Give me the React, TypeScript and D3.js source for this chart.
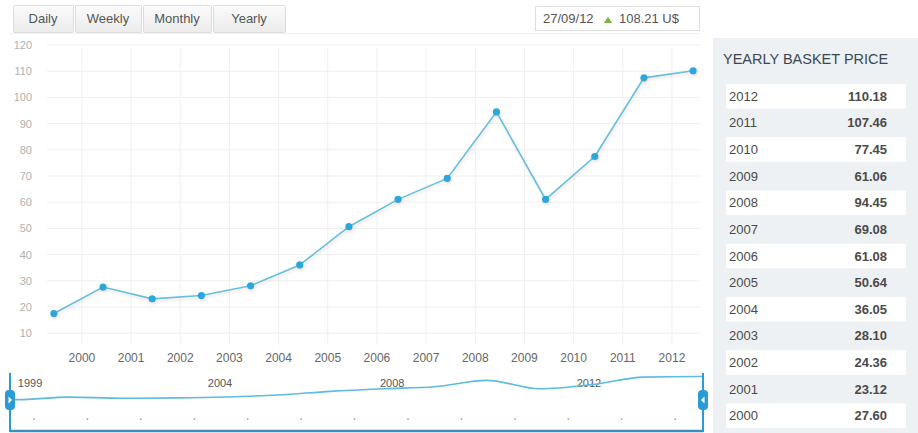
import React from "react";
import * as d3 from "d3";

// ---- data ----
const years = [1999, 2000, 2001, 2002, 2003, 2004, 2005, 2006, 2007, 2008, 2009, 2010, 2011, 2012];
const prices = [17.5, 27.6, 23.12, 24.36, 28.1, 36.05, 50.64, 61.08, 69.08, 94.45, 61.06, 77.45, 107.46, 110.18];
const xTickYears = [2000, 2001, 2002, 2003, 2004, 2005, 2006, 2007, 2008, 2009, 2010, 2011, 2012];
const yTicks = [10, 20, 30, 40, 50, 60, 70, 80, 90, 100, 110, 120];
const navLabels = ["1999", "2004", "2008", "2012"];
const navLabelAt = [1999.44, 2003.08, 2006.38, 2010.15];
const tableYears = ["2012", "2011", "2010", "2009", "2008", "2007", "2006", "2005", "2004", "2003", "2002", "2001", "2000"];
const tableValues = ["110.18", "107.46", "77.45", "61.06", "94.45", "69.08", "61.08", "50.64", "36.05", "28.10", "24.36", "23.12", "27.60"];
const buttons = ["Daily", "Weekly", "Monthly", "Yearly"];
const quoteDate = "27/09/12";
const quoteValue = "108.21 U$";

const W = 918;
const H = 433;
const FONT = "'Liberation Sans', Arial, sans-serif";
const POINT_OFFSET = 0.43; // points sit part-way through each year

export default function App() {
  const x = d3.scaleLinear().domain([1999.29, 2012.57]).range([47, 700]);
  const y = d3.scaleLinear().domain([0, 120]).range([359.4, 45]);
  const plotTop = 45;
  const plotBottom = 345;

  const pts = years.map((yr, i) => ({ x: x(yr + POINT_OFFSET), y: y(prices[i]) }));
  const line = d3.line<{ x: number; y: number }>().x((d) => d.x).y((d) => d.y);

  const nx = d3.scaleLinear().domain([1999.29, 2012.57]).range([10, 703]);
  const ny = d3.scaleLinear().domain([0, 120]).range([404, 374]);
  const navPts = years.map((yr, i) => ({ x: nx(yr + POINT_OFFSET), y: ny(prices[i]) }));
  const navLinePts = [{ x: nx.range()[0], y: navPts[0].y }, ...navPts, { x: nx.range()[1], y: navPts[navPts.length - 1].y }];
  const navLine = d3.line<{ x: number; y: number }>().x((d) => d.x).y((d) => d.y).curve(d3.curveMonotoneX);

  const btnWidths = [60, 66, 68, 72];
  let acc = 13;
  const btnPos = buttons.map((b, i) => {
    const p = { x: acc, w: btnWidths[i] };
    acc += btnWidths[i] + 2;
    return p;
  });

  const rowY = d3.scaleBand<string>().domain(tableYears).range([84, 428]).paddingInner(0.08);

  return (
    <svg width={W} height={H} style={{ position: "absolute", left: 0, top: 0, fontFamily: FONT }}>
      <defs>
        <linearGradient id="btnGrad" x1="0" y1="0" x2="0" y2="1">
          <stop offset="0" stopColor="#fbfbfb" />
          <stop offset="1" stopColor="#ebebeb" />
        </linearGradient>
        <filter id="shadow" x="-10%" y="-10%" width="120%" height="130%">
          <feDropShadow dx="1" dy="2" stdDeviation="1.5" floodColor="#c08080" floodOpacity="0.25" />
        </filter>
      </defs>
      <rect x={0} y={0} width={W} height={H} fill="#ffffff" />

      {/* buttons */}
      {buttons.map((b, i) => (
        <g key={b}>
          <rect x={btnPos[i].x + 0.5} y={5.5} width={btnPos[i].w} height={27} fill="url(#btnGrad)" stroke="#dcdcdc" rx={1} />
          <text x={btnPos[i].x + btnPos[i].w / 2} y={23} textAnchor="middle" fontSize={13} fill="#555">
            {b}
          </text>
        </g>
      ))}
      <line x1={10} x2={700} y1={33.5} y2={33.5} stroke="#f0f0f0" />

      {/* quote box */}
      <rect x={535.5} y={6.5} width={164} height={24} fill="#fff" stroke="#dedede" />
      <text x={543} y={23} fontSize={13} fill="#555">{quoteDate}</text>
      <path d="M604,23 L608,16.5 L612,23 Z" fill="#7cb342" />
      <text x={619} y={23} fontSize={13} fill="#555">{quoteValue}</text>

      {/* grid */}
      {yTicks.map((t) => (
        <line key={"h" + t} x1={47} x2={700} y1={y(t)} y2={y(t)} stroke="#efefef" />
      ))}
      {xTickYears.map((t) => (
        <line key={"v" + t} x1={x(t)} x2={x(t)} y1={plotTop + 3} y2={plotBottom} stroke="#efefef" />
      ))}

      {/* y labels */}
      {yTicks.map((t) => (
        <text key={"yl" + t} x={32} y={y(t) + 4} textAnchor="end" fontSize={11} fill="#b0b0b0">
          {t}
        </text>
      ))}
      {/* x labels */}
      {xTickYears.map((t) => (
        <text key={"xl" + t} x={x(t)} y={362} textAnchor="middle" fontSize={12} fill="#666">
          {t}
        </text>
      ))}

      {/* series */}
      <g filter="url(#shadow)">
        <path d={line(pts) || ""} fill="none" stroke="#62bfe0" strokeWidth={1.6} />
        {pts.map((p, i) => (
          <circle key={"p" + i} cx={p.x} cy={p.y} r={3.6} fill="#2ba8dc" />
        ))}
      </g>

      {/* navigator */}
      {navLabels.map((l, i) => (
        <text key={"nl" + l} x={nx(navLabelAt[i])} y={387} fontSize={11} fill="#555">
          {l}
        </text>
      ))}
      {d3.range(13).map((i) => (
        <circle key={"nd" + i} cx={nx(1999.75 + i) + (i * 15) / 12} cy={419} r={0.9} fill="#aaa" />
      ))}
      <path d={navLine(navLinePts) || ""} fill="none" stroke="#5bbbe0" strokeWidth={1.6} />
      <line x1={10} x2={703} y1={431} y2={431} stroke="#3a90b8" strokeWidth={2.5} />
      <line x1={10} x2={10} y1={373} y2={432} stroke="#2b9bd6" strokeWidth={2} />
      <line x1={703} x2={703} y1={373} y2={432} stroke="#2b9bd6" strokeWidth={2} />
      <rect x={5} y={390} width={10} height={20} rx={4} fill="#2b9bd6" />
      <path d="M8.5,396.5 L12,400 L8.5,403.5 Z" fill="#fff" />
      <rect x={698} y={390} width={10} height={20} rx={4} fill="#2b9bd6" />
      <path d="M704.5,396.5 L701,400 L704.5,403.5 Z" fill="#fff" />

      {/* table panel */}
      <rect x={713} y={38} width={205} height={395} fill="#eef1f3" />
      <text x={723} y={64} fontSize={14.5} fill="#3b4852">YEARLY BASKET PRICE</text>
      {tableYears.map((yr, i) => (
        <g key={"r" + yr}>
          {i % 2 === 0 && (
            <rect x={726} y={rowY(yr)!} width={180} height={rowY.bandwidth()} fill="#ffffff" />
          )}
          <text x={729} y={rowY(yr)! + rowY.bandwidth() / 2 + 4.5} fontSize={13} fill="#4a4a4a">
            {yr}
          </text>
          <text x={887} y={rowY(yr)! + rowY.bandwidth() / 2 + 4.5} fontSize={13} fontWeight="bold" fill="#4a4a4a" textAnchor="end">
            {tableValues[i]}
          </text>
        </g>
      ))}
    </svg>
  );
}
